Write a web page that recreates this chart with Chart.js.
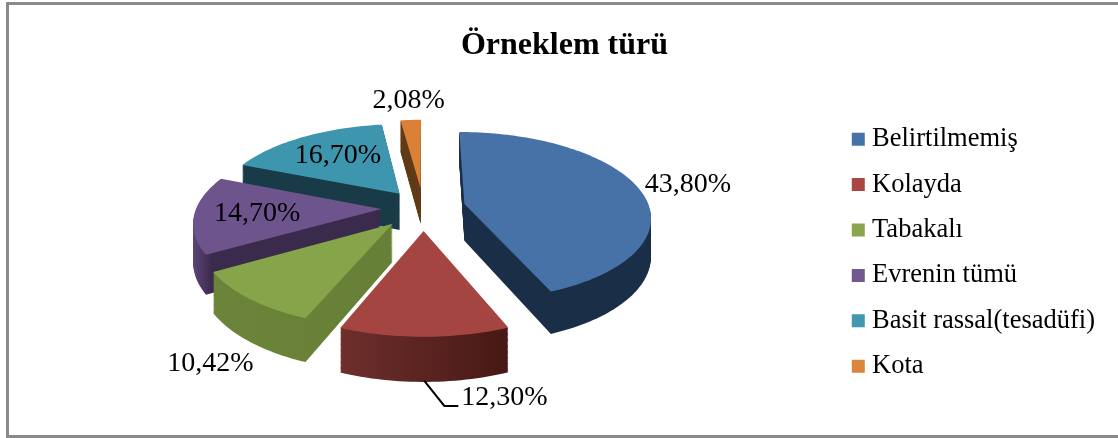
<!DOCTYPE html>
<html>
<head>
<meta charset="utf-8">
<script src="https://cdn.jsdelivr.net/npm/chart.js@4"></script>
<style>html,body{margin:0;padding:0;background:#fff}canvas{display:block}</style>
</head>
<body>
<canvas id="c" width="1118" height="438"></canvas>
<script>
const categories = ['Belirtilmemiş','Kolayda','Tabakalı','Evrenin tümü','Basit rassal(tesadüfi)','Kota'];
const values = [43.80,12.30,10.42,14.70,16.70,2.08];
const valueLabels = ['43,80%','12,30%','10,42%','14,70%','16,70%','2,08%'];
const topColors = ['#4672a8','#a54542','#86a44a','#6e548d','#3d96ae','#da8137'];
const legendColors = ['#4572a7','#aa4643','#89a54e','#71588f','#4198af','#db843d'];
const sideLeft = ['#1a2e47','#6e2f2c','#6b8439','#5d4578','#193b47','#5f3a15'];
const sideRight = ['#1a2e47','#471815','#678037','#3a2a4b','#193b47','#5f3a15'];
const sideStop = [1,1,1,0.1,1,1];
const explode = [42,50,46,42,40,45];
const drawOrder = [4,3,5,2,0,1];
const labelNudgeX = [49,80,-39,63,35,-2];
const labelNudgeY = [-4,61,65,-1,19,-19];

const view = {shiftX:-8, shiftY:-45, squash:0.45, persp:1300, depth:37};

function project(el, cx, cy, theta, rho, z){
  const u = rho*Math.sin(theta), v = -rho*Math.cos(theta);
  const s = 1/(1 - v/view.persp);
  return {x: cx + u*s, y: cy + v*view.squash*s + z*s};
}
function outline(el, off, cx, cy, z){
  const a0 = el.startAngle + Math.PI/2, a1 = el.endAngle + Math.PI/2, mid = (a0+a1)/2;
  const ox = off*Math.sin(mid), oy = -off*Math.cos(mid);
  const pt = (dx,dy)=>{
    const rho = Math.hypot(dx,dy), th = Math.atan2(dx,-dy);
    return project(el,cx,cy,th,rho,z);
  };
  const pts = [pt(ox,oy)];
  const n = Math.max(6, Math.ceil((a1-a0)*40));
  for(let i=0;i<=n;i++){
    const t = a0+(a1-a0)*i/n;
    pts.push(pt(ox+el.outerRadius*Math.sin(t), oy-el.outerRadius*Math.cos(t)));
  }
  return {pts, pt, mid, ox, oy};
}
function fillPts(ctx, pts, style){
  ctx.beginPath();
  pts.forEach((p,i)=> i?ctx.lineTo(p.x,p.y):ctx.moveTo(p.x,p.y));
  ctx.closePath();
  ctx.fillStyle = style;
  ctx.fill();
}
const pie3d = {
  id:'pie3d',
  beforeDraw(chart){
    const {ctx,width,height} = chart;
    ctx.save();
    ctx.fillStyle='#fff';ctx.fillRect(0,0,width,height);
    ctx.strokeStyle='#8a8a8a';ctx.lineWidth=3;
    ctx.beginPath();
    ctx.moveTo(width,3.5);ctx.lineTo(7.5,3.5);ctx.lineTo(7.5,height-1.5);ctx.lineTo(width,height-1.5);
    ctx.stroke();
    ctx.restore();
  },
  beforeDatasetsDraw(chart){
    const ctx = chart.ctx, arcs = chart.getDatasetMeta(0).data;
    ctx.save();
    drawOrder.forEach(i=>{
      const el = arcs[i], off = el.options.offset;
      const cx = el.x+view.shiftX, cy = el.y+view.shiftY;
      const top = outline(el,off,cx,cy,0);
      const xs = top.pts.map(p=>p.x);
      const g = ctx.createLinearGradient(Math.min(...xs),0,Math.max(...xs),0);
      g.addColorStop(0,sideLeft[i]);g.addColorStop(sideStop[i],sideRight[i]);
      for(let z=view.depth;z>0;z--) fillPts(ctx,outline(el,off,cx,cy,z).pts,g);
      fillPts(ctx,top.pts,topColors[i]);
    });
    ctx.fillStyle='#000';
    ctx.font='28px "Liberation Serif"';
    ctx.textAlign='center';ctx.textBaseline='middle';
    arcs.forEach((el,i)=>{
      const off = el.options.offset, cx = el.x+view.shiftX, cy = el.y+view.shiftY;
      const o = outline(el,off,cx,cy,0);
      const p = o.pt(o.ox+el.outerRadius*Math.sin(o.mid), o.oy-el.outerRadius*Math.cos(o.mid));
      ctx.fillText(valueLabels[i], p.x+labelNudgeX[i], p.y+labelNudgeY[i]);
      if(i===1){
        const b = outline(el,off,cx,cy,view.depth);
        const q = b.pt(b.ox+el.outerRadius*Math.sin(b.mid), b.oy-el.outerRadius*Math.cos(b.mid));
        ctx.beginPath();ctx.moveTo(q.x,q.y-1);ctx.lineTo(q.x+20,q.y+24);ctx.lineTo(q.x+34,q.y+24);
        ctx.strokeStyle='#000';ctx.lineWidth=2;ctx.stroke();
      }
    });
    ctx.restore();
    return false;
  }
};
new Chart(document.getElementById('c'),{
  type:'pie',
  data:{labels:categories,datasets:[{data:values,backgroundColor:legendColors,offset:explode,borderWidth:0,hoverOffset:0}]},
  plugins:[pie3d],
  options:{
    responsive:false,animation:false,events:[],
    radius:185,
    layout:{padding:{left:24,right:13,top:0,bottom:0}},
    plugins:{
      tooltip:{enabled:false},
      title:{display:true,text:'Örneklem türü',color:'#000',font:{family:'"Liberation Serif"',size:32,weight:'bold'},padding:{top:27,bottom:2}},
      legend:{position:'right',fullSize:false,labels:{
        color:'#000',font:{family:'"Liberation Serif"',size:26.5},padding:18.9,boxWidth:1,boxHeight:1,
        generateLabels:()=>categories.map((t,i)=>({text:t,fillStyle:legendColors[i],strokeStyle:legendColors[i],lineWidth:12,index:i}))
      }}
    }
  }
});
</script>
</body>
</html>
